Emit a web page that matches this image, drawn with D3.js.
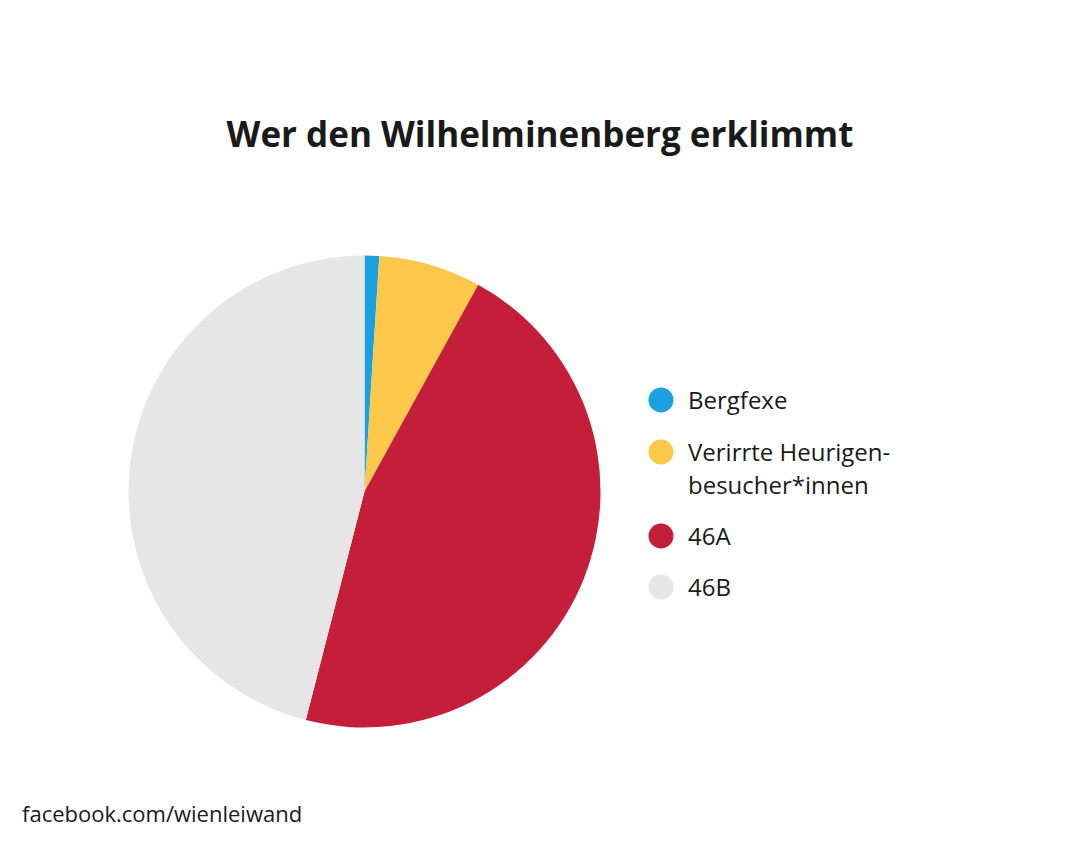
<!DOCTYPE html>
<meta charset="utf-8" />
<script src="https://d3js.org/d3.v7.min.js"></script>
<div id="chart"></div>
<script>
  // data (shares in percent)
  const categories = ["Bergfexe", "Verirrte Heurigen-\nbesucher*innen", "46A", "46B"];
  const values = [1, 7, 46, 46];
  const colors = ["#1ba1e2", "#fcc84a", "#c41e3a", "#e6e6e6"];

  const width = 1080,
    height = 846;

  const svg = d3
    .select("#chart")
    .append("svg")
    .attr("width", width)
    .attr("height", height)
    .style("font-family", "'Open Sans', sans-serif");

  svg.append("rect").attr("width", width).attr("height", height).attr("fill", "#fff");

  // title
  svg
    .append("text")
    .attr("x", 540)
    .attr("y", 147)
    .attr("text-anchor", "middle")
    .style("font-size", "35px")
    .style("font-weight", "bold")
    .style("fill", "#1a1a1a")
    .text("Wer den Wilhelminenberg erklimmt");

  // pie
  const data = categories.map((c, i) => ({ name: c, value: values[i], color: colors[i] }));
  const pie = d3.pie().sort(null).value((d) => d.value);
  const arc = d3.arc().innerRadius(0).outerRadius(236);

  const g = svg.append("g").attr("transform", "translate(364.5, 491.5)");
  g.selectAll("path")
    .data(pie(data))
    .join("path")
    .attr("d", arc)
    .attr("fill", (d) => d.data.color);

  // legend
  const rowY = [400, 452, 536, 587];
  const legend = svg
    .append("g")
    .selectAll("g")
    .data(data)
    .join("g")
    .attr("transform", (d, i) => `translate(0, ${rowY[i]})`);

  legend
    .append("circle")
    .attr("cx", 661)
    .attr("cy", 0)
    .attr("r", 12.5)
    .attr("fill", (d) => d.color);

  legend
    .append("text")
    .attr("x", 688)
    .attr("y", 9)
    .style("font-size", "24px")
    .style("fill", "#1a1a1a")
    .selectAll("tspan")
    .data((d) => d.name.split("\n"))
    .join("tspan")
    .attr("x", 688)
    .attr("dy", (d, i) => (i === 0 ? 0 : 33))
    .text((d) => d);

  // footer
  svg
    .append("text")
    .attr("x", 22)
    .attr("y", 822)
    .style("font-size", "22px")
    .style("fill", "#1a1a1a")
    .text("facebook.com/wienleiwand");
</script>
<style>
  body {
    margin: 0;
  }
</style>
